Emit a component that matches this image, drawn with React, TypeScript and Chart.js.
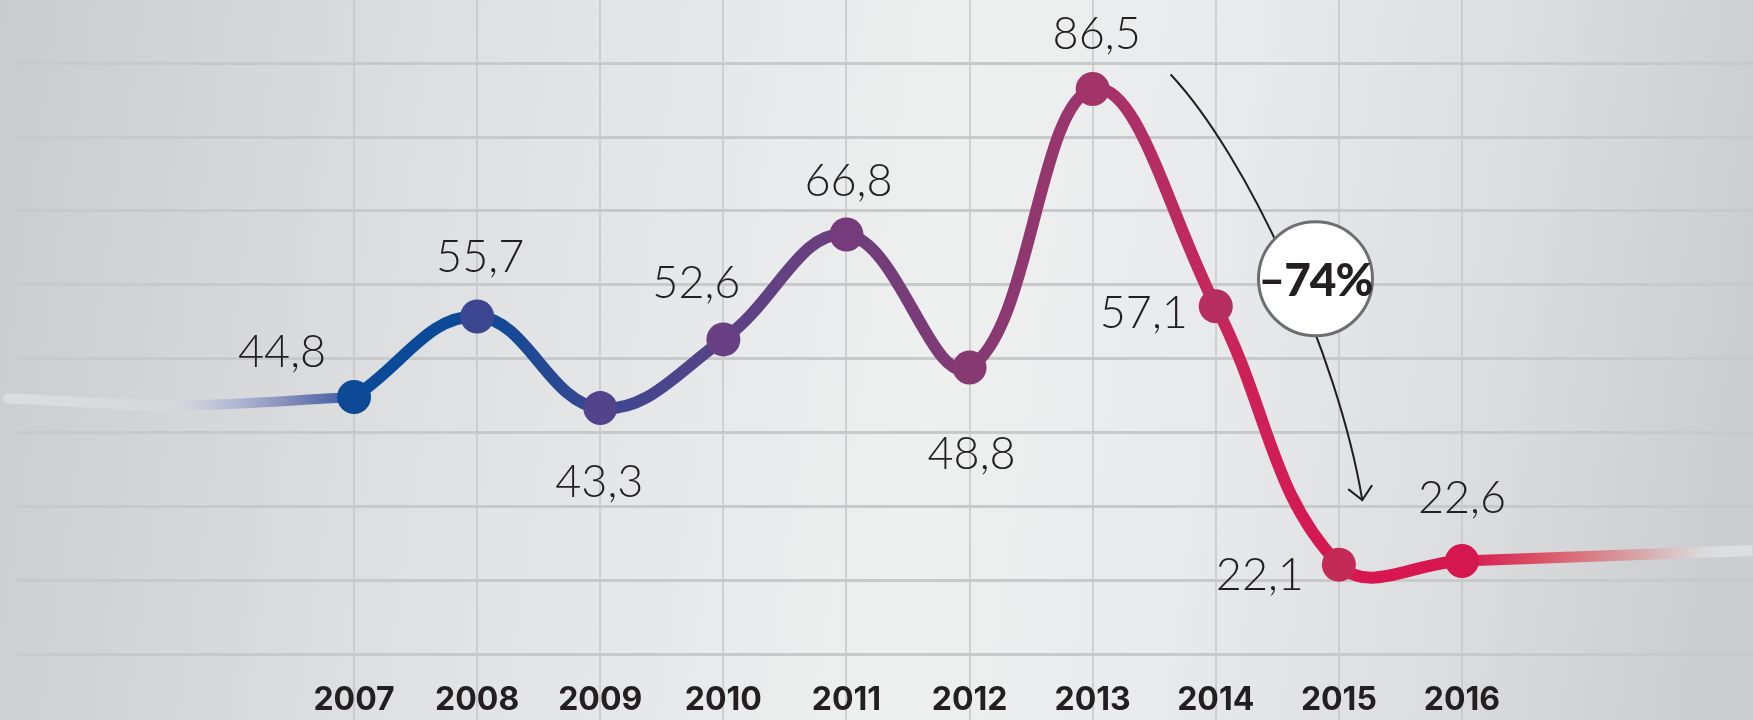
import React, { useEffect, useRef } from 'react';
import { Chart, registerables } from 'chart.js';

Chart.register(...registerables);

// ---------- data ----------
const years = [2007, 2008, 2009, 2010, 2011, 2012, 2013, 2014, 2015, 2016];
const values = [44.8, 55.7, 43.3, 52.6, 66.8, 48.8, 86.5, 57.1, 22.1, 22.6];
const valueLabels = ['44,8', '55,7', '43,3', '52,6', '66,8', '48,8', '86,5', '57,1', '22,1', '22,6'];
const yearLabels = ['2007', '2008', '2009', '2010', '2011', '2012', '2013', '2014', '2015', '2016'];
const gridValues = [10, 20, 30, 40, 50, 60, 70, 80, 90];

// decorative fading tails of the line
const leftTailYears = [2004.19, 2005.6, 2007];
const leftTailValues = [44.6, 43.7, 44.8];
const rightTailYears = [2016, 2018.36];
const rightTailValues = [22.6, 24.0];

// annotation: change badge and curved arrow (data coordinates)
const changeLabel = '\u201374%';
const badgeYear = 2014.81;
const badgeValue = 60.8;
const arrowYears = [2013.637, 2014.246, 2014.99, 2015.19];
const arrowValues = [88.4, 77.57, 50.9, 30.85];

// ---------- styles ----------
const pointColors = ['#0c4a97', '#3d4690', '#53438a', '#673f82', '#753b7a', '#863a71', '#a3346a', '#b52e5e', '#c32a58', '#d6164f'];
const lineStops = ['#0a4a99', '#0a4a98', '#3a4791', '#5a4387', '#6d3e7d', '#823a73', '#a0346b', '#c8265b', '#d9154f', '#d6164f'];
// label offsets in px relative to the point: [dx, baseline dy]
const labelOffsets = [[-72, -30], [3, -45], [-1, 89], [-27, -41], [2, -39], [2, 102], [4, -40], [-72, 22], [-79, 25], [0, -48]];
const INK = '#231f20';
const VALUE_FONT = '300 45px Lato, "Open Sans", sans-serif';
const BADGE_FONT = '900 46px Lato, Inter, sans-serif';

const X_MIN = 2004.262;
const X_MAX = 2018.364;
const Y_MIN = 10;
const Y_MAX = 98.56;

export default function App() {
  const canvasRef = useRef<HTMLCanvasElement | null>(null);

  useEffect(() => {
    document.body.style.margin = '0';
    const canvas = canvasRef.current;
    if (!canvas) return;

    const bgPlugin = {
      id: 'bg',
      beforeDraw(chart: any) {
        const { ctx, width, height } = chart;
        ctx.save();
        const g = ctx.createLinearGradient(0, 0, width, height * 0.35);
        g.addColorStop(0, '#cacbce');
        g.addColorStop(0.28, '#e0e1e3');
        g.addColorStop(0.55, '#eeefef');
        g.addColorStop(0.7, '#e9eaeb');
        g.addColorStop(0.86, '#dcdddf');
        g.addColorStop(1, '#cccdd0');
        ctx.fillStyle = g;
        ctx.fillRect(0, 0, width, height);
        ctx.restore();
      },
    };

    const annotPlugin = {
      id: 'annot',
      afterDatasetsDraw(chart: any) {
        const { ctx } = chart;
        const xs = chart.scales.x;
        const ys = chart.scales.y;
        const meta = chart.getDatasetMeta(0);
        ctx.save();
        // value labels
        ctx.fillStyle = INK;
        ctx.font = VALUE_FONT;
        ctx.textAlign = 'center';
        ctx.textBaseline = 'alphabetic';
        meta.data.forEach((pt: any, i: number) => {
          const [dx, dy] = labelOffsets[i];
          ctx.fillText(valueLabels[i], pt.x + dx, pt.y + dy);
        });

        // arrow
        const p = arrowYears.map((yr, i) => [xs.getPixelForValue(yr), ys.getPixelForValue(arrowValues[i])]);
        ctx.strokeStyle = INK;
        ctx.lineWidth = 2;
        ctx.lineCap = 'round';
        ctx.beginPath();
        ctx.moveTo(p[0][0], p[0][1]);
        ctx.bezierCurveTo(p[1][0], p[1][1], p[2][0], p[2][1], p[3][0], p[3][1]);
        ctx.stroke();
        // arrow head
        const ang = Math.atan2(p[3][1] - p[2][1], p[3][0] - p[2][0]);
        const len = 17;
        ctx.beginPath();
        ctx.moveTo(p[3][0] - len * Math.cos(ang - 0.75), p[3][1] - len * Math.sin(ang - 0.75));
        ctx.lineTo(p[3][0], p[3][1]);
        ctx.lineTo(p[3][0] - len * Math.cos(ang + 0.75), p[3][1] - len * Math.sin(ang + 0.75));
        ctx.stroke();

        // badge
        const bx = xs.getPixelForValue(badgeYear);
        const by = ys.getPixelForValue(badgeValue);
        ctx.beginPath();
        ctx.arc(bx, by, 57, 0, Math.PI * 2);
        ctx.fillStyle = '#ffffff';
        ctx.fill();
        ctx.lineWidth = 3;
        ctx.strokeStyle = '#6d6e71';
        ctx.stroke();
        ctx.fillStyle = INK;
        ctx.font = BADGE_FONT;
        (ctx as any).letterSpacing = '-1px';
        ctx.textAlign = 'center';
        ctx.textBaseline = 'alphabetic';
        ctx.fillText(changeLabel, bx, by + 17);
        ctx.restore();
      },
    };

    const lineGradient = (context: any) => {
      const chart = context.chart;
      const xs = chart.scales.x;
      if (!xs || !chart.chartArea) return lineStops[0];
      const x0 = xs.getPixelForValue(years[0]);
      const x1 = xs.getPixelForValue(years[years.length - 1]);
      const g = chart.ctx.createLinearGradient(x0, 0, x1, 0);
      lineStops.forEach((c, i) => g.addColorStop(i / (lineStops.length - 1), c));
      return g;
    };

    const leftTailGradient = (context: any) => {
      const chart = context.chart;
      const xs = chart.scales.x;
      if (!xs || !chart.chartArea) return 'rgba(0,0,0,0)';
      const x0 = xs.getPixelForValue(leftTailYears[0]);
      const x1 = xs.getPixelForValue(years[0]);
      const g = chart.ctx.createLinearGradient(x0, 0, x1, 0);
      g.addColorStop(0, 'rgba(255,255,255,0.3)');
      g.addColorStop(0.45, 'rgba(225,226,232,0.3)');
      g.addColorStop(0.6, 'rgba(180,186,214,0.7)');
      g.addColorStop(0.85, 'rgba(115,128,180,1)');
      g.addColorStop(1, '#3a5a9f');
      return g;
    };

    const rightTailGradient = (context: any) => {
      const chart = context.chart;
      const xs = chart.scales.x;
      if (!xs || !chart.chartArea) return 'rgba(0,0,0,0)';
      const x0 = xs.getPixelForValue(years[years.length - 1]);
      const x1 = xs.getPixelForValue(rightTailYears[rightTailYears.length - 1]);
      const g = chart.ctx.createLinearGradient(x0, 0, x1, 0);
      g.addColorStop(0, '#d6164f');
      g.addColorStop(0.3, '#da5a68');
      g.addColorStop(0.6, '#d7a3a6');
      g.addColorStop(0.85, 'rgba(222,224,226,0.8)');
      g.addColorStop(1, 'rgba(238,239,240,0.5)');
      return g;
    };

    const chart = new Chart(canvas, {
      type: 'line',
      data: {
        datasets: [
          {
            label: 'main',
            data: years.map((yr, i) => ({ x: yr, y: values[i] })),
            borderColor: lineGradient,
            borderWidth: 12,
            tension: 0.4,
            pointRadius: 17,
            pointHoverRadius: 17,
            pointBackgroundColor: pointColors,
            pointBorderWidth: 0,
            fill: false,
            order: 0,
            clip: false,
          },
          {
            label: 'leftTail',
            data: leftTailYears.map((yr, i) => ({ x: yr, y: leftTailValues[i] })),
            borderColor: leftTailGradient,
            borderWidth: 10,
            borderCapStyle: 'round',
            tension: 0.4,
            pointRadius: 0,
            fill: false,
            order: 1,
            clip: false,
          },
          {
            label: 'rightTail',
            data: rightTailYears.map((yr, i) => ({ x: yr, y: rightTailValues[i] })),
            borderColor: rightTailGradient,
            borderWidth: 11,
            tension: 0,
            pointRadius: 0,
            fill: false,
            order: 1,
            clip: false,
          },
        ],
      },
      options: {
        animation: false,
        responsive: false,
        events: [],
        layout: { autoPadding: false, padding: { left: 17, right: 0, top: 0, bottom: 0 } },
        plugins: {
          legend: { display: false },
          tooltip: { enabled: false },
        },
        scales: {
          x: {
            type: 'linear',
            min: X_MIN,
            max: X_MAX,
            afterBuildTicks(scale: any) {
              scale.ticks = years.map((v) => ({ value: v }));
            },
            afterFit(scale: any) {
              scale.height = 66;
            },
            border: { display: false },
            grid: {
              color: 'rgba(196,197,200,0.75)',
              lineWidth: 2,
              drawTicks: true,
              tickLength: 66,
              tickColor: 'rgba(196,197,200,0.75)',
              tickWidth: 2,
            },
            ticks: {
              autoSkip: false,
              maxRotation: 0,
              padding: -39,
              color: INK,
              font: { family: 'Inter, Lato, sans-serif', size: 32, weight: 700 },
              callback: (v: any) => {
                const idx = years.indexOf(Number(v));
                return idx >= 0 ? yearLabels[idx] : '';
              },
            },
          },
          y: {
            type: 'linear',
            min: Y_MIN,
            max: Y_MAX,
            afterBuildTicks(scale: any) {
              scale.ticks = gridValues.map((v) => ({ value: v }));
            },
            afterFit(scale: any) {
              scale.width = 0;
            },
            border: { display: false },
            grid: {
              color: '#c8c9cb',
              lineWidth: 3,
              drawTicks: false,
            },
            ticks: { display: false },
          },
        },
      },
      plugins: [bgPlugin, annotPlugin],
    });

    return () => {
      chart.destroy();
    };
  }, []);

  return (
    <div style={{ width: 1753, height: 720 }}>
      <canvas ref={canvasRef} width={1753} height={720} style={{ display: 'block', width: 1753, height: 720 }} />
    </div>
  );
}
